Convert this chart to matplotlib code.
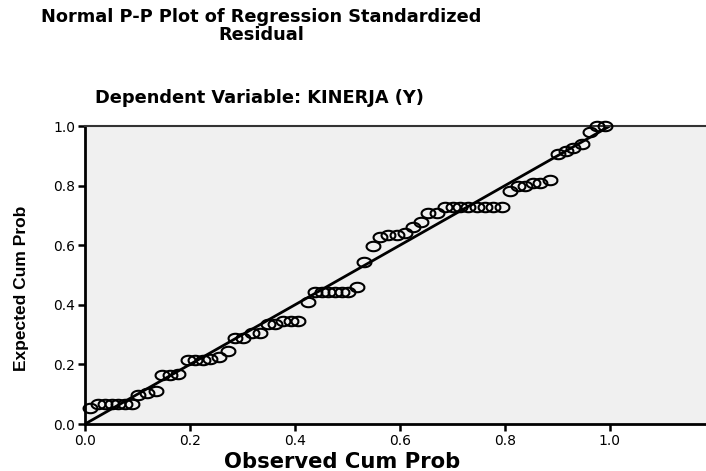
import matplotlib
matplotlib.use("Agg")
import matplotlib.pyplot as plt
import numpy as np

# observed / expected cumulative probabilities
obs_cum = [0.010, 0.025, 0.038, 0.051, 0.063, 0.076, 0.090, 0.101, 0.118, 0.135,
           0.147, 0.162, 0.177, 0.196, 0.210, 0.225, 0.238, 0.255, 0.272, 0.286,
           0.301, 0.318, 0.333, 0.349, 0.362, 0.377, 0.392, 0.406, 0.425, 0.438,
           0.451, 0.463, 0.476, 0.490, 0.501, 0.518, 0.531, 0.549, 0.562, 0.577,
           0.594, 0.610, 0.625, 0.640, 0.653, 0.670, 0.686, 0.701, 0.714, 0.730,
           0.747, 0.762, 0.777, 0.794, 0.810, 0.825, 0.838, 0.853, 0.867, 0.886,
           0.901, 0.916, 0.930, 0.947, 0.962, 0.975, 0.990]
exp_cum = [0.054, 0.067, 0.067, 0.067, 0.067, 0.067, 0.067, 0.097, 0.104, 0.111,
           0.164, 0.164, 0.168, 0.215, 0.215, 0.215, 0.218, 0.225, 0.245, 0.289,
           0.289, 0.305, 0.305, 0.336, 0.336, 0.346, 0.346, 0.346, 0.409, 0.443,
           0.443, 0.443, 0.443, 0.443, 0.443, 0.460, 0.544, 0.597, 0.628, 0.634,
           0.634, 0.641, 0.661, 0.678, 0.708, 0.708, 0.728, 0.728, 0.728, 0.728,
           0.728, 0.728, 0.728, 0.728, 0.782, 0.799, 0.799, 0.809, 0.809, 0.819,
           0.906, 0.916, 0.926, 0.940, 0.980, 1.0, 1.0]
ticks = [0.0, 0.2, 0.4, 0.6, 0.8, 1.0]
tick_labels = ["0.0", "0.2", "0.4", "0.6", "0.8", "1.0"]

plt.rcParams['font.family'] = ['DejaVu Sans']

fig = plt.figure(figsize=(7.06, 4.71), dpi=100)
ax = fig.add_axes([85/706, 47/471, 621/706, 298/471])
ax.set_facecolor('#f0f0f0')

# ellipse marker like SPSS
t = np.linspace(0, 2*np.pi, 60)
ell = np.column_stack([np.cos(t), 0.68*np.sin(t)])

ax.plot([0, 1], [0, 1], color='black', lw=2, zorder=2)
ax.plot(obs_cum, exp_cum, linestyle='none', marker=ell, markersize=10,
        markerfacecolor='none', markeredgecolor='black', markeredgewidth=1.5,
        zorder=3, clip_on=False)

ax.set_xlim(0, 1.183)
ax.set_ylim(0, 1.0)
ax.set_xticks(ticks)
ax.set_xticklabels(tick_labels)
ax.set_yticks(ticks)
ax.set_yticklabels(tick_labels)
ax.tick_params(direction='out', length=5, width=1.8, labelsize=10, pad=2)

ax.spines['right'].set_visible(False)
ax.spines['left'].set_linewidth(2)
ax.spines['bottom'].set_linewidth(2)
ax.spines['top'].set_linewidth(1.5)
ax.spines['top'].set_color('#333333')

fig.text(261/706, 1 - 26/471, "Normal P-P Plot of Regression Standardized\nResidual",
         ha='center', va='center', fontsize=12.8, fontweight='bold', linespacing=0.95)
fig.text(259/706, 1 - 98/471, "Dependent Variable: KINERJA (Y)",
         ha='center', va='center', fontsize=12.8, fontweight='bold')
fig.text(342/706, 1 - 462/471, "Observed Cum Prob",
         ha='center', va='center', fontsize=15.2, fontweight='bold')
fig.text(22/706, 1 - 288/471, "Expected Cum Prob", rotation=90,
         ha='center', va='center', fontsize=12.5, fontweight='bold',
         family=['Liberation Sans Narrow', 'Liberation Sans'])

fig.savefig("out.png", dpi=100)
